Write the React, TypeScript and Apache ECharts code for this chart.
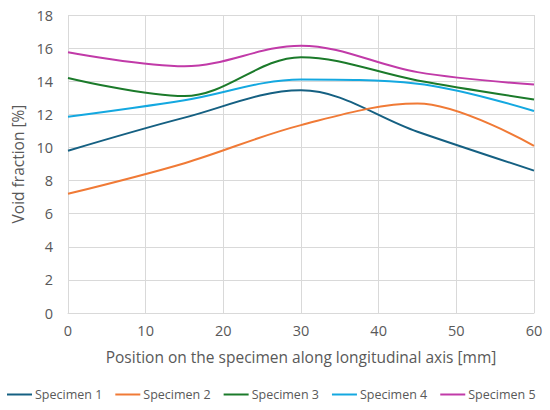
import React, { useEffect, useRef } from "react";
import * as echarts from "echarts";

const positions = [0, 15, 30, 45, 60];
const seriesNames = ["Specimen 1", "Specimen 2", "Specimen 3", "Specimen 4", "Specimen 5"];
const specimen1 = [9.8, 11.8, 13.45, 10.95, 8.6];
const specimen2 = [7.2, 9.05, 11.35, 12.65, 10.1];
const specimen3 = [14.2, 13.1, 15.45, 14.05, 12.9];
const specimen4 = [11.85, 12.85, 14.1, 13.85, 12.2];
const specimen5 = [15.75, 14.9, 16.15, 14.55, 13.8];
const seriesValues = [specimen1, specimen2, specimen3, specimen4, specimen5];
const colors = ["#156082", "#F07A36", "#1B7A2A", "#14A8E0", "#C13AA8"];

const FONT = "Open Sans";
const GRAY = "#595959";

export default function App() {
  const ref = useRef<HTMLDivElement>(null);
  useEffect(() => {
    if (!ref.current) return;
    const chart = echarts.init(ref.current, null, { renderer: "svg" });
    chart.setOption({
      animation: false,
      textStyle: { fontFamily: FONT },
      grid: { left: 68, right: 16, top: 15, bottom: 97 },
      legend: {
        left: 7,
        top: 388,
        padding: 0,
        icon: "rect",
        itemWidth: 25,
        itemHeight: 2,
        itemGap: 13,
        textStyle: { color: GRAY, fontSize: 12.5, fontFamily: FONT, padding: [0, 0, 0, -2] },
        data: seriesNames,
      },
      xAxis: {
        type: "value",
        min: 0,
        max: 60,
        interval: 10,
        name: "Position on the specimen along longitudinal axis [mm]",
        nameLocation: "middle",
        nameGap: 36,
        nameTextStyle: { color: GRAY, fontSize: 15.5, fontFamily: FONT },
        axisLine: { show: true, lineStyle: { color: "#d9d9d9" } },
        axisTick: { show: false },
        axisLabel: { color: GRAY, fontSize: 14.5, margin: 10, fontFamily: FONT },
        splitLine: { show: true, lineStyle: { color: "#d9d9d9" } },
      },
      yAxis: {
        type: "value",
        min: 0,
        max: 18,
        interval: 2,
        name: "Void fraction [%]",
        nameLocation: "middle",
        nameGap: 40,
        nameTextStyle: { color: GRAY, fontSize: 15.5, fontFamily: FONT },
        axisLine: { show: false },
        axisTick: { show: false },
        axisLabel: { color: GRAY, fontSize: 14.5, margin: 15, fontFamily: FONT },
        splitLine: { show: true, lineStyle: { color: "#d9d9d9" } },
      },
      series: seriesNames.map((name, i) => ({
        name,
        type: "line",
        smooth: 0.35,
        symbol: "none",
        data: positions.map((x, j) => [x, seriesValues[i][j]]),
        lineStyle: { color: colors[i], width: 2 },
        itemStyle: { color: colors[i] },
      })),
    });
    return () => chart.dispose();
  }, []);
  return (
    <div
      ref={ref}
      style={{ position: "absolute", left: 0, top: 0, width: 550, height: 410 }}
    />
  );
}
